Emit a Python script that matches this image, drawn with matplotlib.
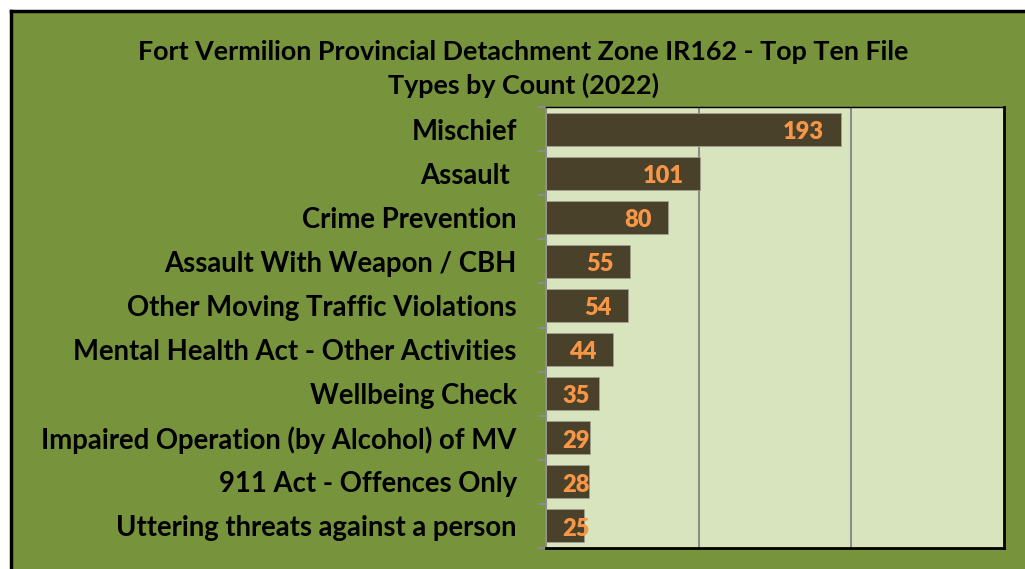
import matplotlib
matplotlib.use('Agg')
import matplotlib.pyplot as plt
from matplotlib.lines import Line2D

# Top ten file types (2022)
categories = ['Mischief', 'Assault ', 'Crime Prevention', 'Assault With Weapon / CBH',
              'Other Moving Traffic Violations', 'Mental Health Act - Other Activities',
              'Wellbeing Check', 'Impaired Operation (by Alcohol) of MV',
              '911 Act - Offences Only', 'Uttering threats against a person']
counts = [193, 101, 80, 55, 54, 44, 35, 29, 28, 25]
title = 'Fort Vermilion Provincial Detachment Zone IR162 - Top Ten File\nTypes by Count (2022)'

Green = '#77933C'
PlotBg = '#D7E4BD'
BarCol = '#4A412A'
Orange = '#F79646'
GridCol = '#8C8C8C'

plt.rcParams['font.family'] = ['Lato', 'DejaVu Sans']
plt.rcParams['font.weight'] = 'bold'

fig = plt.figure(figsize=(10.25, 5.69), dpi=100)
fig.patch.set_facecolor('white')

# green background panel with black border on top and left
fig.patches.append(plt.Rectangle((12/1025, 0), 1, 1 - 12/569, transform=fig.transFigure,
                                 facecolor=Green, edgecolor='none', zorder=-5))
fig.lines.append(Line2D([10.5/1025, 10.5/1025], [0, 1 - 10.5/569], transform=fig.transFigure,
                        color='black', lw=2.5, zorder=-4))
fig.lines.append(Line2D([10.5/1025, 1], [1 - 10.5/569, 1 - 10.5/569], transform=fig.transFigure,
                        color='black', lw=2.5, zorder=-4))

ax = fig.add_axes([546/1025, 1 - 548/569, 458/1025, 441/569])
ax.set_facecolor(PlotBg)

y = list(range(len(categories)))
ax.barh(y, counts, height=0.75, color=BarCol, edgecolor='#A0A090', linewidth=0.6, zorder=3)
ax.set_ylim(len(categories) - 0.5, -0.5)
ax.set_xlim(0, 300)
ax.set_xticks([100, 200])
ax.set_xticklabels([])
ax.tick_params(axis='x', length=0)
ax.grid(axis='x', color=GridCol, lw=1.5, zorder=1)

ax.set_yticks(y)
ax.set_yticklabels(categories, fontsize=19.8, fontweight='bold', color='black')
ax.tick_params(axis='y', which='major', length=0, pad=21)
ax.set_yticks([i - 0.5 for i in range(len(categories) + 1)], minor=True)
ax.tick_params(axis='y', which='minor', length=6, width=1.5, color=GridCol, direction='out')

for s in ['top', 'right', 'bottom']:
    ax.spines[s].set_color('black')
ax.spines['top'].set_linewidth(1)
ax.spines['right'].set_linewidth(2)
ax.spines['bottom'].set_linewidth(2)
ax.spines['left'].set_color(GridCol)
ax.spines['left'].set_linewidth(1.5)

# value labels: inside end, pushed right for the short bars
for i, v in enumerate(counts):
    if v >= 40:
        ax.annotate(str(v), (v, i), xytext=(-12, -2), textcoords='offset points',
                    ha='right', va='center', color=Orange, fontsize=17, fontweight='heavy', zorder=4)
    else:
        ax.annotate(str(v), (0, i), xytext=(12, -2), textcoords='offset points',
                    ha='left', va='center', color=Orange, fontsize=17, fontweight='heavy', zorder=4)

fig.text(523/1025, 1 - 69/569, title, ha='center', va='center', fontsize=19.4,
         fontweight='bold', linespacing=1.45)

fig.savefig('out.png', dpi=100, facecolor=fig.get_facecolor())
